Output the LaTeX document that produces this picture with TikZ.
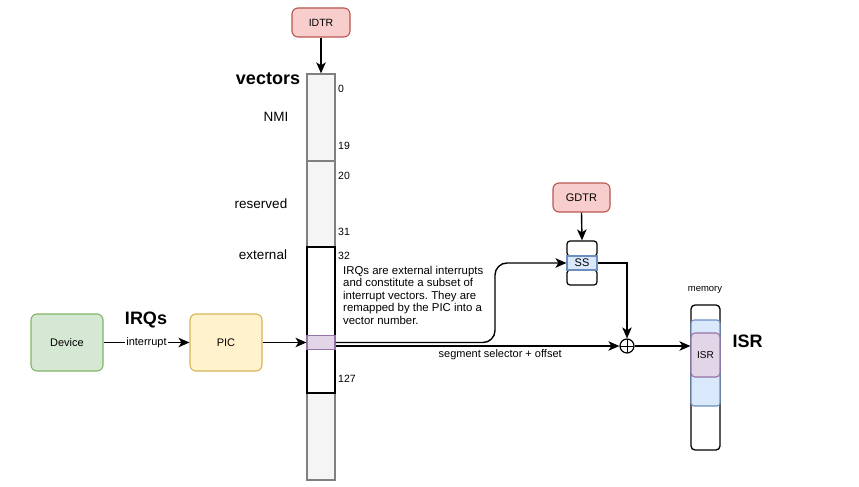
\documentclass[tikz,border=0pt]{standalone}
\usepackage{fontspec}
\setmainfont{Liberation Sans}
\usetikzlibrary{arrows.meta}
\frenchspacing
\definecolor{redf}{HTML}{F8CECC}\definecolor{redd}{HTML}{B85450}
\definecolor{greenf}{HTML}{D5E8D4}\definecolor{greend}{HTML}{82B366}
\definecolor{yelf}{HTML}{FFF2CC}\definecolor{yeld}{HTML}{D6B656}
\definecolor{purf}{HTML}{E1D5E7}\definecolor{purd}{HTML}{9673A6}
\definecolor{bluef}{HTML}{DAE8FC}\definecolor{blued}{HTML}{6C8EBF}
\definecolor{grayf}{HTML}{F5F5F5}\definecolor{grayd}{HTML}{808080}
\begin{document}
\begin{tikzpicture}[x=1pt,y=-1pt,
  box/.style={draw, rounded corners=6pt, line width=1.1pt, inner sep=0pt, font=\fontsize{11}{13}\selectfont},
  seg/.style={draw=grayd, fill=grayf, line width=1.3pt, minimum width=28pt, inner sep=0pt},
  num/.style={anchor=west, inner sep=0pt, font=\fontsize{10.5}{12}\selectfont},
  side/.style={inner sep=0pt, font=\fontsize{13.5}{15}\selectfont},
  big/.style={inner sep=0pt, font=\fontsize{18}{20}\selectfont\bfseries},
  conn/.style={line width=1.4pt, -{Stealth[length=11pt,width=9.5pt,inset=3pt]}},
  plain/.style={line width=1.4pt}
]
\useasboundingbox (0,0) rectangle (859,487);

% vector table
\node[seg, minimum height=87pt] (nmi) at (321,117.5) {};
\node[seg, minimum height=86pt] (res) at (321,204) {};
\node[seg, minimum height=87pt] (tail) at (321,436.5) {};
\node[draw=black, fill=white, line width=1.3pt, minimum width=28pt, minimum height=146pt, inner sep=0pt] (ext) at (321,320) {};
\node[draw=purd, fill=purf, line width=1.1pt, minimum width=28pt, minimum height=14pt, inner sep=0pt] (irqslot) at (321,342.5) {};

\node[big] (vec) at (268,79) {vectors};
\node[side] (nmil) at (276,117) {NMI};
\node[side] (resl) at (261,204) {reserved};
\node[side] (extl) at (263,255) {external};
\node[num] (n0) at (338,89) {0};
\node[num] (n19) at (338,146) {19};
\node[num] (n20) at (338,176) {20};
\node[num] (n31) at (338,232) {31};
\node[num] (n32) at (338,256) {32};
\node[num] (n127) at (338,379) {127};

\node[anchor=north west, inner sep=0pt, align=left, font=\fontsize{11.4}{12.5}\selectfont] (note) at (343,266)
 {IRQs are external interrupts\\and constitute a subset of\\interrupt vectors. They are\\remapped by the PIC into a\\vector number.};

% registers
\node[box, draw=redd, fill=redf, minimum width=58pt, minimum height=29pt, font=\fontsize{10.5}{12}\selectfont] (idtr) at (321,22.5) {IDTR};
\node[box, draw=redd, fill=redf, minimum width=57pt, minimum height=29pt] (gdtr) at (581.5,197.5) {GDTR};

% SS stack
\node[draw, rounded corners=3pt, line width=1.2pt, minimum width=30pt, minimum height=15pt, inner sep=0pt] (sstop) at (582,248.5) {};
\node[draw, rounded corners=3pt, line width=1.2pt, minimum width=30pt, minimum height=15pt, inner sep=0pt] (ssbot) at (582,277.5) {};
\node[draw=blued, fill=bluef, line width=1.1pt, minimum width=30pt, minimum height=14pt, inner sep=0pt, font=\fontsize{11}{13}\selectfont] (ss) at (582,263) {SS};

% device & PIC
\node[box, draw=greend, fill=greenf, minimum width=72pt, minimum height=57pt] (dev) at (67,342.5) {Device};
\node[box, draw=yeld, fill=yelf, minimum width=72pt, minimum height=57pt] (pic) at (226,342.5) {PIC};
\node[big] (irqs) at (146,320) {IRQs};

% plus
\node[circle, draw, line width=1.2pt, minimum size=14pt, inner sep=0pt,
  path picture={\draw[line width=1pt] (path picture bounding box.north) -- (path picture bounding box.south)
  (path picture bounding box.west) -- (path picture bounding box.east);}] (plus) at (627,346) {};

% memory
\node[draw, rounded corners=4pt, line width=1.3pt, minimum width=29pt, minimum height=145pt, inner sep=0pt] (mem) at (705.5,377.5) {};
\node[draw=blued, fill=bluef, rounded corners=3pt, line width=1.1pt, minimum width=29pt, minimum height=86pt, inner sep=0pt] (memblue) at (705.5,363) {};
\node[draw=purd, fill=purf, rounded corners=4pt, line width=1.1pt, minimum width=29pt, minimum height=44pt, inner sep=0pt, font=\fontsize{10}{12}\selectfont] (isr) at (705.5,355) {ISR};
\node[inner sep=0pt, font=\fontsize{9.5}{11}\selectfont] (meml) at (705,290) {memory};
\node[big] (isrl) at (747.5,341.5) {ISR};

% connectors
\draw[conn] (idtr.south) -- (nmi.north);
\draw[conn] (gdtr.south) -- (sstop.north);
\draw[conn] (dev.east) -- node[fill=white, inner sep=1pt, font=\fontsize{11}{13}\selectfont] {interrupt} (pic.west);
\draw[conn] (pic.east) -- (irqslot.west);
\coordinate (bend) at (495,342.5);
\draw[conn, rounded corners=12pt] (irqslot.east) -- (bend) |- (ss.west);
\draw[conn] ([yshift=-3.5pt]irqslot.east) -- node[below=3pt, font=\fontsize{11}{13}\selectfont, inner sep=0pt, pos=0.58] {segment selector + offset} (plus.west);
\draw[conn] (ss.east) -| (plus.north);
\draw[conn] (plus.east) -- (isr.west |- plus);
\end{tikzpicture}
\end{document}
